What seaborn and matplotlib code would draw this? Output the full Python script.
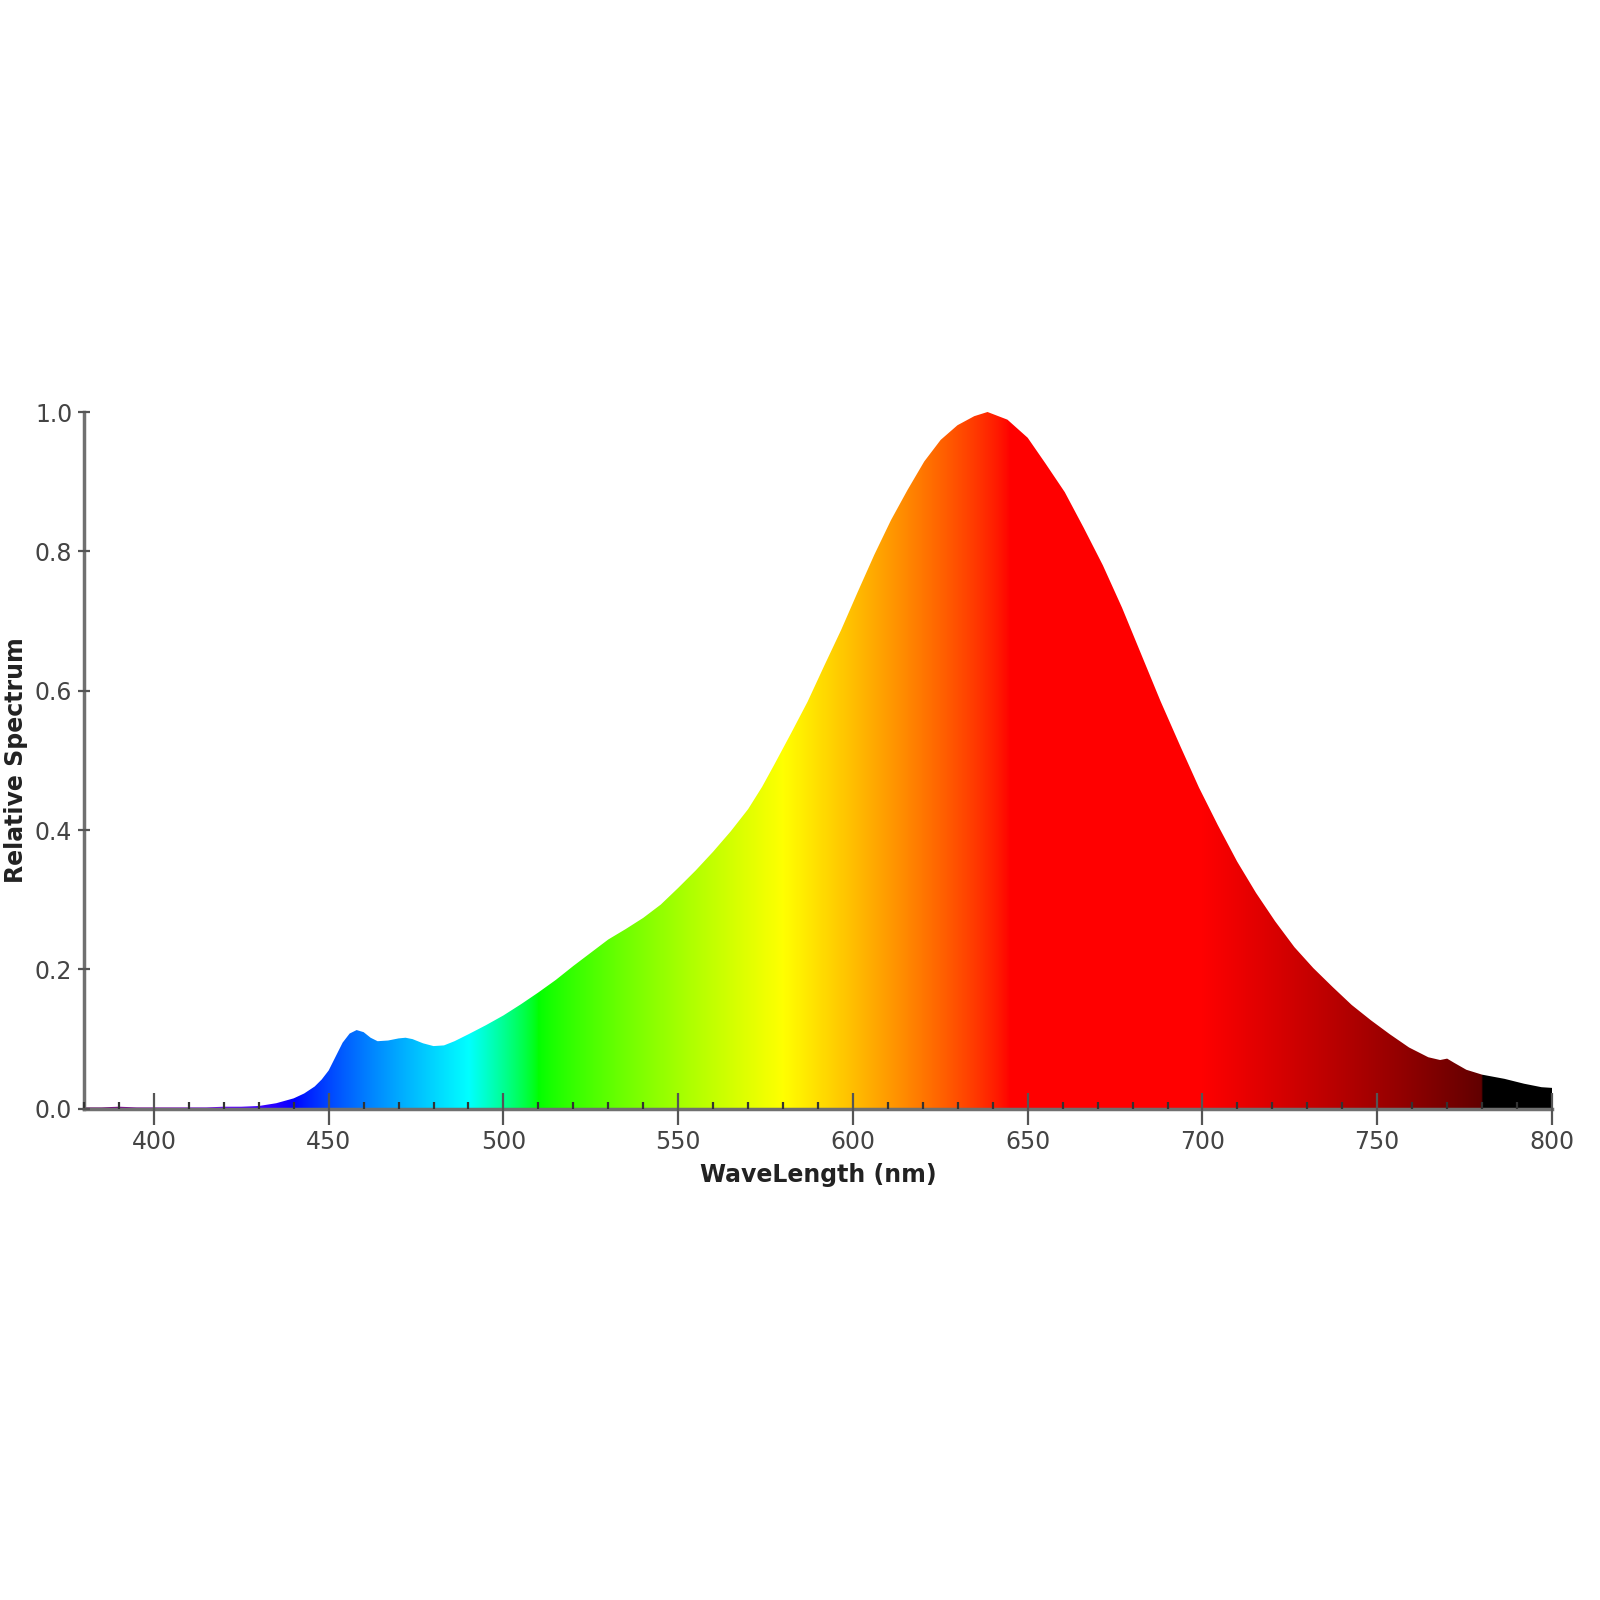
import numpy as np
import matplotlib
matplotlib.use("Agg")
from matplotlib import pyplot as plt
from matplotlib.ticker import MultipleLocator, FormatStrFormatter
import seaborn as sns

# relative spectrum (nm, relative units)
wavelength = [380, 385, 390, 395, 400, 405, 410, 415, 420, 425, 430, 435, 440,
              443, 446, 448, 450, 452, 454, 456, 458, 460, 462, 464, 467, 470,
              472, 474, 477, 480, 483, 486, 490, 495, 500, 505, 510, 515, 520,
              525, 530, 535, 540, 545, 550, 555, 560, 565, 570, 574, 577.5,
              582.3, 587, 591.8, 596.6, 601.3, 606.1, 610.9, 615.6, 620.4, 625.1,
              629.9, 634.7, 638.5, 644.2, 650, 655.1, 660.6, 666, 671.5, 677,
              682.5, 688, 693.7, 699, 704.4, 709.9, 715.3, 720.8, 726.3, 731.7,
              737.2, 742.7, 748.2, 753.6, 759.1, 764.6, 768, 770, 772, 775.5,
              780, 786.4, 792, 797, 800]
spectrum = [0.002, 0.002, 0.003, 0.002, 0.002, 0.002, 0.002, 0.002, 0.003, 0.003,
            0.004, 0.008, 0.015, 0.022, 0.032, 0.042, 0.055, 0.075, 0.095, 0.108,
            0.113, 0.110, 0.102, 0.097, 0.098, 0.101, 0.102, 0.100, 0.094, 0.090,
            0.091, 0.097, 0.107, 0.120, 0.134, 0.150, 0.167, 0.185, 0.205, 0.224,
            0.243, 0.258, 0.274, 0.293, 0.317, 0.342, 0.369, 0.398, 0.430, 0.462,
            0.494, 0.539, 0.584, 0.636, 0.687, 0.741, 0.795, 0.845, 0.888, 0.929,
            0.960, 0.981, 0.994, 1.000, 0.989, 0.963, 0.926, 0.885, 0.834, 0.780,
            0.719, 0.652, 0.585, 0.520, 0.461, 0.407, 0.355, 0.310, 0.269, 0.232,
            0.202, 0.175, 0.149, 0.127, 0.107, 0.088, 0.074, 0.070, 0.072, 0.066,
            0.056, 0.049, 0.043, 0.036, 0.031, 0.030]


def wavelength_rgb(w, gamma=0.8):
    # colour of visible light for a wavelength in nm
    if w < 440:
        r, g, b = -(w - 440) / 60, 0.0, 1.0
    elif w < 490:
        r, g, b = 0.0, (w - 440) / 50, 1.0
    elif w < 510:
        r, g, b = 0.0, 1.0, -(w - 510) / 20
    elif w < 580:
        r, g, b = (w - 510) / 70, 1.0, 0.0
    elif w < 645:
        r, g, b = 1.0, -(w - 645) / 65, 0.0
    elif w <= 780:
        r, g, b = 1.0, 0.0, 0.0
    else:
        r, g, b = 0.0, 0.0, 0.0
    if w < 420:
        f = 0.3 + 0.7 * (w - 380) / 40
    elif w <= 700:
        f = 1.0
    elif w <= 780:
        f = 0.3 + 0.7 * (780 - w) / 80
    else:
        f = 0.0
    return [(c * f) ** gamma if c > 0 else 0.0 for c in (r, g, b)]


sns.set_theme(style="ticks")
plt.rcParams['font.family'] = ['DejaVu Sans']

fig = plt.figure(figsize=(16, 16), dpi=100)
ax = fig.add_axes([0.0525, 0.307, 0.9175, 0.4355])
ax.set_axisbelow(False)

# colour band across the visible range, clipped to the area under the curve
grid = np.arange(380, 800.5, 0.5)
band = np.array([[wavelength_rgb(w) for w in grid]])
area = ax.fill_between(wavelength, spectrum, 0, facecolor="none", edgecolor="none")
img = ax.imshow(band, extent=[380, 800, 0, 1], aspect="auto",
                interpolation="bilinear", origin="lower", zorder=1)
img.set_clip_path(area.get_paths()[0], transform=ax.transData)

ax.set_xlim(380, 800)
ax.set_ylim(0, 1.0)
ax.xaxis.set_major_locator(MultipleLocator(50))
ax.xaxis.set_minor_locator(MultipleLocator(10))
ax.yaxis.set_major_locator(MultipleLocator(0.2))
ax.yaxis.set_major_formatter(FormatStrFormatter('%.1f'))

ax.tick_params(axis="x", which="major", direction="inout", length=23, width=1.6,
               color="#555555", labelsize=17, labelcolor="#444444", pad=4)
ax.tick_params(axis="x", which="minor", direction="in", length=5, width=1.6,
               color="#333333")
ax.tick_params(axis="y", which="major", direction="inout", length=9, width=1.6,
               color="#555555", labelsize=17, labelcolor="#444444", pad=4)

sns.despine(ax=ax)
for side in ("left", "bottom"):
    ax.spines[side].set_color("#707070")
    ax.spines[side].set_linewidth(2.5)

ax.set_xlabel("WaveLength (nm)", fontsize=17, fontweight="bold", color="#222222",
              labelpad=6)
ax.set_ylabel("Relative Spectrum", fontsize=17, fontweight="bold", color="#222222",
              labelpad=5)

fig.savefig("out.png", dpi=100, facecolor="white")
